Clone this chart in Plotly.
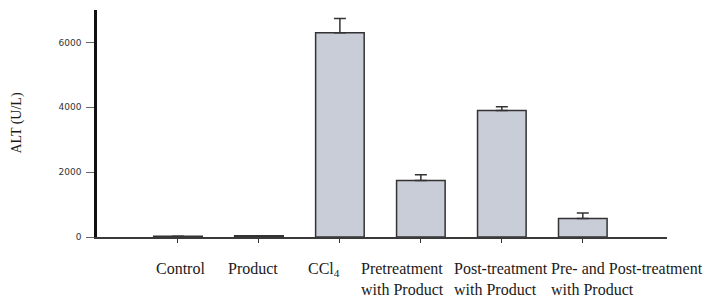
import plotly.graph_objects as go

categories = ["Control", "Product", "CCl4", "Pretreatment with Product",
              "Post-treatment with Product", "Pre- and Post-treatment with Product"]
label_text = ["Control", "Product", "CCl<sub>4</sub>", "Pretreatment<br>with Product",
              "Post-treatment<br>with Product", "Pre- and Post-treatment<br>with Product"]
alt_mean = [20, 35, 6300, 1740, 3900, 570]
alt_err = [0, 0, 440, 180, 120, 170]
y_ticks = [0, 2000, 4000, 6000]

x_idx = list(range(len(categories)))

fig = go.Figure()
fig.add_trace(go.Bar(
    x=x_idx, y=alt_mean, width=0.6,
    marker=dict(color="#c9cdd8", line=dict(color="#333333", width=1.5)),
    error_y=dict(type="data", array=alt_err, arrayminus=[0]*len(alt_err), symmetric=False,
                 color="#333333", thickness=1.5, width=6),
    hovertext=categories,
))

label_shift = [3, -6, -16, -18, -1, 44]
for i, (t, s) in enumerate(zip(label_text, label_shift)):
    fig.add_annotation(x=i, y=0, xref="x", yref="paper", text=t, showarrow=False,
                       xanchor="center", yanchor="top", align="left", xshift=s, yshift=-21,
                       font=dict(family="Liberation Serif", size=16, color="#1a1a1a"))

fig.update_layout(
    width=708, height=300,
    margin=dict(l=97, r=41, t=10, b=63),
    paper_bgcolor="white", plot_bgcolor="white",
    showlegend=False,
    xaxis=dict(range=[-1, 6.04], tickvals=x_idx, showticklabels=False,
               showline=True, linecolor="#3a3a3a", linewidth=1.5,
               ticks="outside", ticklen=4, tickcolor="#333333", tickwidth=1,
               showgrid=False, zeroline=False),
    yaxis=dict(range=[0, 7000], tickvals=y_ticks,
               showline=True, linecolor="#111111", linewidth=2.5,
               ticks="outside", ticklen=8, tickcolor="#666666", tickwidth=1,
               ticklabelstandoff=3,
               tickfont=dict(family="DejaVu Sans", size=9, color="#333333"),
               showgrid=False, zeroline=False),
)
fig.add_annotation(x=0, y=0.5, xref="paper", yref="paper", text="ALT (U/L)", showarrow=False,
                   textangle=-90, xanchor="center", yanchor="middle", xshift=-81,
                   font=dict(family="Liberation Serif", size=14, color="#1a1a1a"))

fig.write_html("out.html", config={"displayModeBar": False},
               post_script="document.body.style.margin='0';document.body.style.overflow='hidden';")
